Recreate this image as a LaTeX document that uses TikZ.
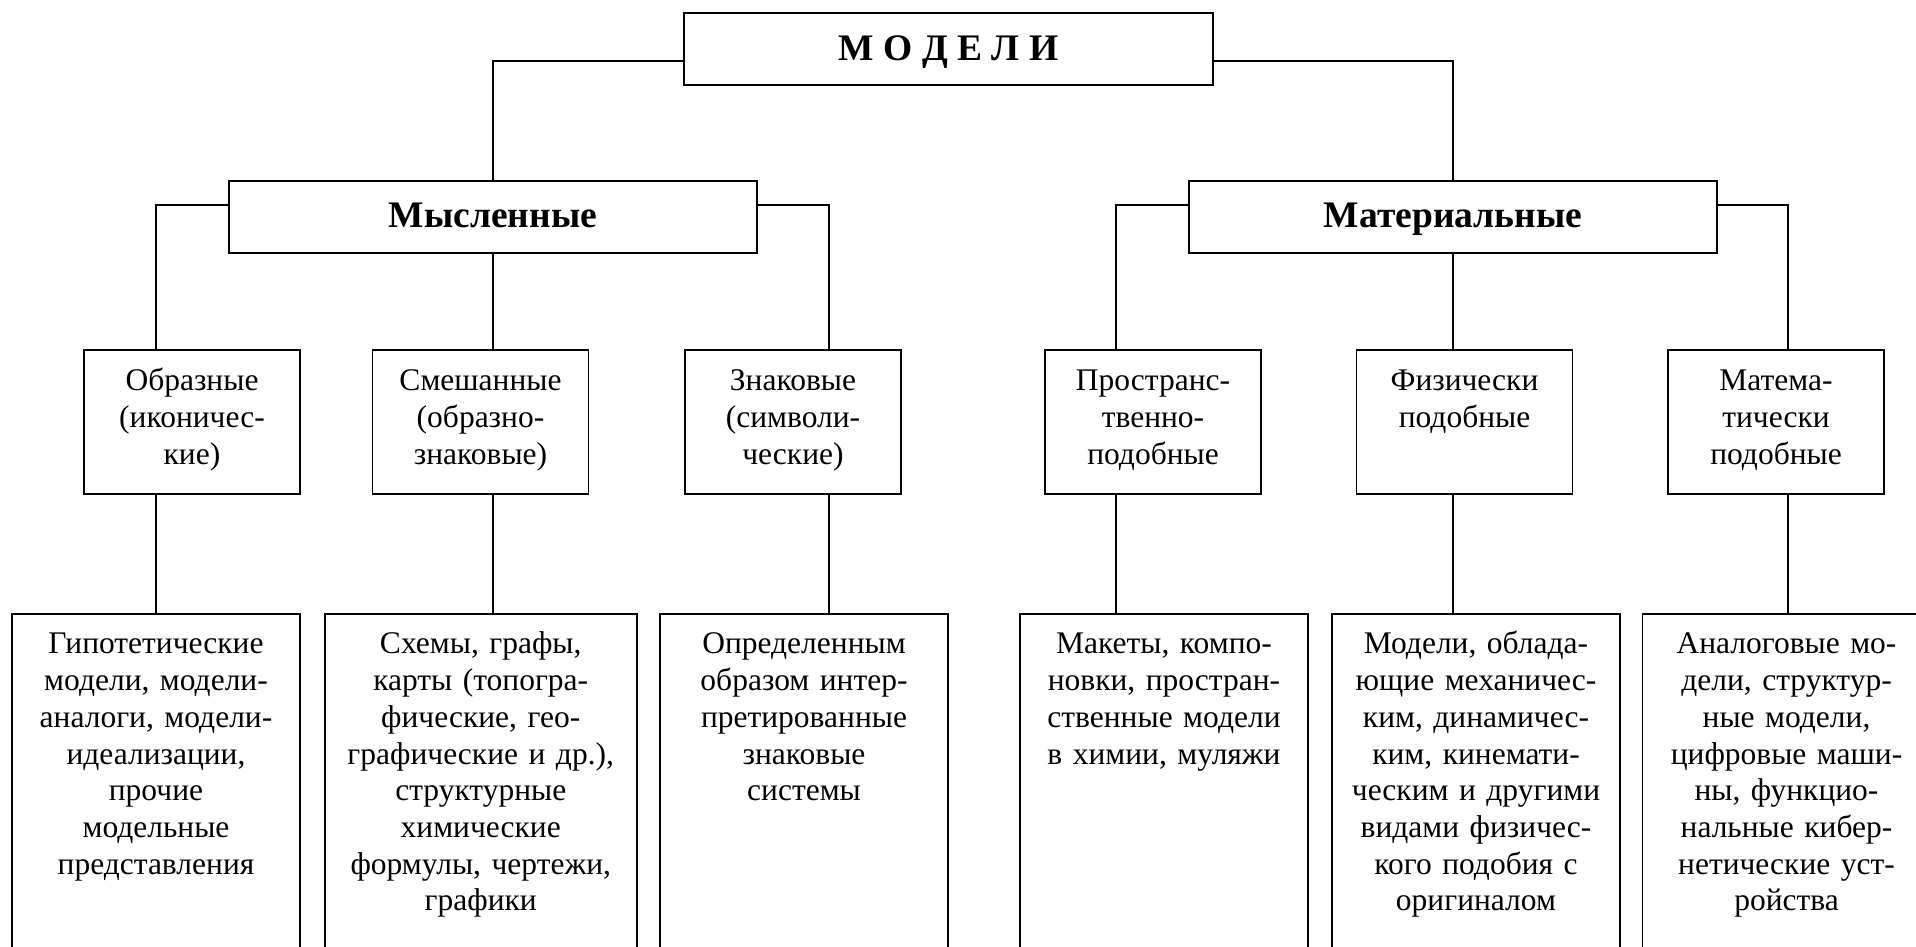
\documentclass[tikz,border=0pt]{standalone}
\usepackage{fontspec}
\setmainfont{Liberation Serif}

\begin{document}
\begin{tikzpicture}[x=1pt, y=-1pt, line width=1.3pt,
				box/.style={draw, line width=1.8pt, inner sep=0pt, align=center},
				head/.style={box, minimum width=528pt, minimum height=72pt,
						text height=20pt, text depth=0pt,
						font=\bfseries\fontsize{37.5}{40}\selectfont},
				kind/.style={box, anchor=north, text width=216pt, text height=41pt,
						text depth=103pt, font=\fontsize{31.5}{36.7}\selectfont},
				expl/.style={box, anchor=north, text width=288pt, text height=40pt,
						text depth=360pt, font=\fontsize{31.5}{36.7}\selectfont}]
			\useasboundingbox (0, 0) rectangle (1916, 947);
			\clip (0, 0) rectangle (1916, 947);

			\node (models) [head, minimum width=529pt, text height=24pt] at (948.5, 49) {М О Д Е Л И};
			\node (mental) [head] at (493, 217) {Мысленные};
			\node (material) [head] at (1453, 217) {Материальные};

			\node (figur) [kind] at (192, 349) {Образные\\(иконичес-\\кие)};
			\node (mixed) [kind] at (480.5, 349) {Смешанные\\(образно-\\знаковые)};
			\node (sign) [kind] at (793, 349) {Знаковые\\(символи-\\ческие)};
			\node (spatial) [kind] at (1153, 349) {Пространс-\\твенно-\\подобные};
			\node (physic) [kind] at (1464.5, 349) {Физически\\подобные};
			\node (mathem) [kind] at (1776, 349) {Матема-\\тически\\подобные};

			\node (hypo) [expl] at (156, 613) {Гипотетические\\модели, модели-\\аналоги, модели-\\идеализации,\\прочие\\модельные\\представления};
			\node (schemes) [expl, text width=312pt] at (480.75, 613) {Схемы, графы,\\карты (топогра-\\фические, гео-\\графические и др.),\\структурные\\химические\\формулы, чертежи,\\графики};
			\node (systems) [expl] at (804, 613) {Определенным\\образом интер-\\претированные\\знаковые\\системы};
			\node (mockups) [expl] at (1164, 613) {Макеты, компо-\\новки, простран-\\ственные модели\\в химии, муляжи};
			\node (similar) [expl] at (1476, 613) {Модели, облада-\\ющие механичес-\\ким, динамичес-\\ким, кинемати-\\ческим и другими\\видами физичес-\\кого подобия с\\оригиналом};
			\node (analog) [expl] at (1786.5, 613) {Аналоговые мо-\\дели, структур-\\ные модели,\\цифровые маши-\\ны, функцио-\\нальные кибер-\\нетические уст-\\ройства};

			% rows and columns of the connectors
			\coordinate (r0) at (0, 61);
			\coordinate (r1) at (0, 205);
			\foreach \i/\x in {1/156, 2/493, 3/829, 4/1116, 5/1453, 6/1788} {
					\coordinate (c\i) at (\x, 0);
				}

			\draw (models.west |- r0) -| (mental.north);
			\draw (models.east |- r0) -| (material.north);
			\draw (mental.west |- r1) -| (figur.north -| c1);
			\draw (mental.east |- r1) -| (sign.north -| c3);
			\draw (mental.south -| c2) -- (mixed.north -| c2);
			\draw (material.west |- r1) -| (spatial.north -| c4);
			\draw (material.east |- r1) -| (mathem.north -| c6);
			\draw (material.south -| c5) -- (physic.north -| c5);

			\foreach \a/\b/\i in {figur/hypo/1, mixed/schemes/2, sign/systems/3,
						spatial/mockups/4, physic/similar/5, mathem/analog/6} {
					\draw (\a.south -| c\i) -- (\b.north -| c\i);
				}
		\end{tikzpicture}
\end{document}
